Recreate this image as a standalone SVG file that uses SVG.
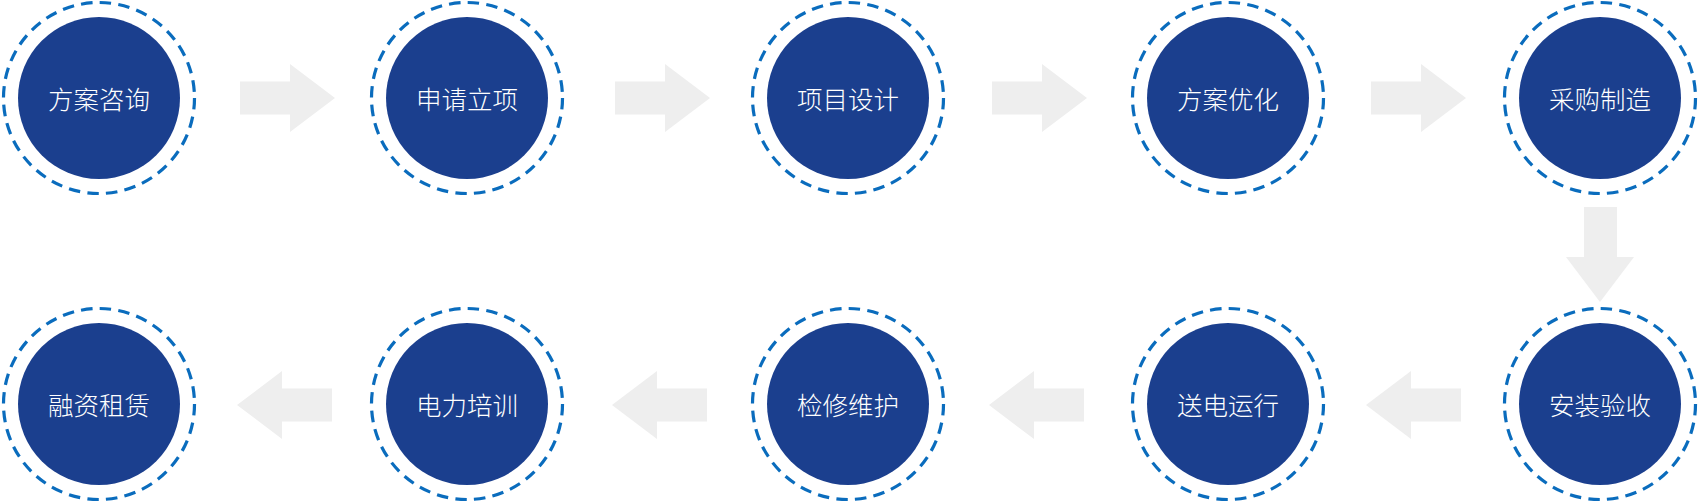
<svg xmlns="http://www.w3.org/2000/svg" width="1702" height="502" viewBox="0 0 1702 502">
<style>
.ring{fill:none;stroke:#0a6cbd;stroke-width:3.2;stroke-dasharray:11.5 7.25}
.core{fill:#1b3f8e}
.lbl{fill:#ffffff;font-family:"Noto Sans CJK SC","Noto Sans",sans-serif;font-size:25.5px;font-weight:300;text-anchor:middle}
.arr{fill:#eeeeee}
</style>
<defs>
<path id="ar" d="M0,-16.5 H50 V-34 L95,0 L50,34 V16.5 H0 Z"/>
<path id="al" d="M0,0 L45,-34 V-16.5 H95 V16.5 H45 V34 Z"/>
</defs>
<g id="connectors">
<use href="#ar" class="arr" x="240" y="98"/>
<use href="#ar" class="arr" x="615" y="98"/>
<use href="#ar" class="arr" x="992" y="98"/>
<use href="#ar" class="arr" x="1371" y="98"/>
<path class="arr" d="M1584,207 H1617 V257 H1634 L1600,302 L1566,257 H1584 Z"/>
<use href="#al" class="arr" x="1366" y="405"/>
<use href="#al" class="arr" x="989" y="405"/>
<use href="#al" class="arr" x="612" y="405"/>
<use href="#al" class="arr" x="237" y="405"/>
</g>
<g id="n1"><circle class="ring" cx="99" cy="98" r="95.5"/><circle class="core" cx="99" cy="98" r="81"/><text class="lbl" x="99" y="109">方案咨询</text></g>
<g id="n2"><circle class="ring" cx="467" cy="98" r="95.5"/><circle class="core" cx="467" cy="98" r="81"/><text class="lbl" x="467" y="109">申请立项</text></g>
<g id="n3"><circle class="ring" cx="848" cy="98" r="95.5"/><circle class="core" cx="848" cy="98" r="81"/><text class="lbl" x="848" y="109">项目设计</text></g>
<g id="n4"><circle class="ring" cx="1228" cy="98" r="95.5"/><circle class="core" cx="1228" cy="98" r="81"/><text class="lbl" x="1228" y="109">方案优化</text></g>
<g id="n5"><circle class="ring" cx="1600" cy="98" r="95.5"/><circle class="core" cx="1600" cy="98" r="81"/><text class="lbl" x="1600" y="109">采购制造</text></g>
<g id="n6"><circle class="ring" cx="1600" cy="404" r="95.5"/><circle class="core" cx="1600" cy="404" r="81"/><text class="lbl" x="1600" y="415">安装验收</text></g>
<g id="n7"><circle class="ring" cx="1228" cy="404" r="95.5"/><circle class="core" cx="1228" cy="404" r="81"/><text class="lbl" x="1228" y="415">送电运行</text></g>
<g id="n8"><circle class="ring" cx="848" cy="404" r="95.5"/><circle class="core" cx="848" cy="404" r="81"/><text class="lbl" x="848" y="415">检修维护</text></g>
<g id="n9"><circle class="ring" cx="467" cy="404" r="95.5"/><circle class="core" cx="467" cy="404" r="81"/><text class="lbl" x="467" y="415">电力培训</text></g>
<g id="n10"><circle class="ring" cx="99" cy="404" r="95.5"/><circle class="core" cx="99" cy="404" r="81"/><text class="lbl" x="99" y="415">融资租赁</text></g>
</svg>
